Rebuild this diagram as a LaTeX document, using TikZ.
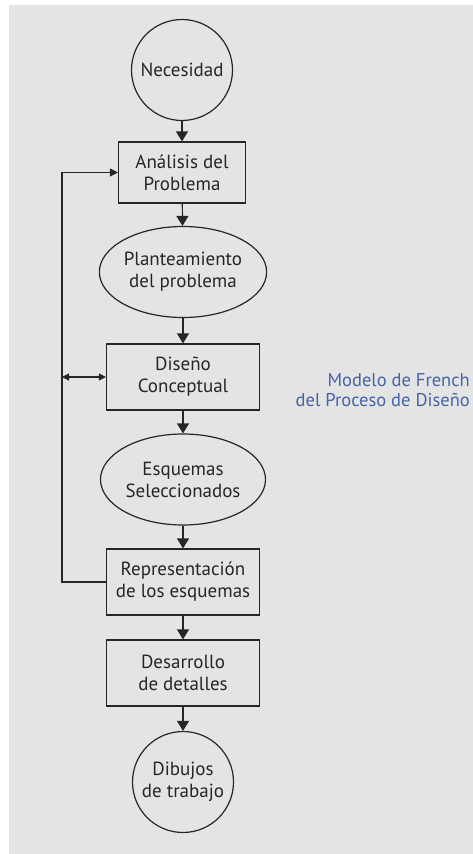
\documentclass[tikz,border=0pt]{standalone}
\usepackage{fontspec}
\setmainfont{PT Sans}
\usetikzlibrary{arrows.meta}
\usetikzlibrary{shapes.geometric}

\definecolor{fondo}{HTML}{E4E4E4}
\definecolor{tinta}{HTML}{262626}
\definecolor{azul}{HTML}{4464A8}

\begin{document}
\begin{tikzpicture}[x=1pt, y=-1pt,
    texto/.style={draw=tinta, line width=1.2pt, text=tinta, align=center, inner sep=0pt, font=\fontsize{19}{22}\selectfont},
    caja/.style={texto, rectangle, minimum width=153pt, minimum height=66pt},
    elipse/.style={texto, ellipse, minimum width=165pt, minimum height=91pt},
    circulo/.style={texto, circle, minimum size=101pt},
    flecha/.style={tinta, line width=1.2pt, -{Triangle[width=12pt,length=10pt]}},
    retro/.style={tinta, line width=1.2pt, -{Triangle[width=8pt,length=8pt]}},
    doble/.style={tinta, line width=1.2pt, {Triangle[width=7pt,length=7pt]}-{Triangle[width=7pt,length=7pt]}}]

      \useasboundingbox (0,0) rectangle (473,854);
      \fill[fondo] (9,5) rectangle (473,854);

      \node[circulo] (1) at (182,70) {Necesidad};
      \node[caja, minimum width=127pt, minimum height=61pt] (2) at (182,172.5) {Análisis del\\Problema};
      \node[elipse] (3) at (183,272) {Planteamiento\\del problema};
      \node[caja] (4) at (183,377) {Diseño\\Conceptual};
      \node[elipse] (5) at (183,479.5) {Esquemas\\Seleccionados};
      \node[caja] (6) at (183,582) {Representación\\de los esquemas};
      \node[caja] (7) at (183,673) {Desarrollo\\de detalles};
      \node[circulo] (8) at (183,782) {Dibujos\\de trabajo};

      \coordinate (izq) at (62,377);

      \draw[flecha] (1) -- (2);
      \draw[flecha] (2) -- (3);
      \draw[flecha] (3) -- (4);
      \draw[flecha] (4) -- (5);
      \draw[flecha] (5) -- (6);
      \draw[flecha] (6) -- (7);
      \draw[flecha] (7) -- (8);

      \draw[retro] (6.west) -| (izq) |- (2.west);
      \draw[doble] (izq) -- (4.west);

      \node[anchor=east, align=right, text=azul, inner sep=0pt, font=\fontsize{18.5}{20}\selectfont] (titulo) at (470,390) {Modelo de French\\del Proceso de Diseño};
    \end{tikzpicture}
\end{document}
